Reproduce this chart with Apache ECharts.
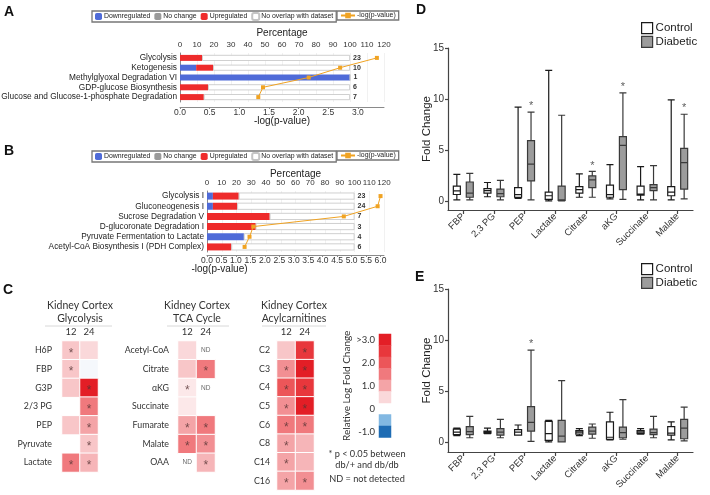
<!DOCTYPE html>
<html><head><meta charset="utf-8">
<script src="https://cdn.jsdelivr.net/npm/echarts@6/dist/echarts.min.js"></script>
<style>html,body{margin:0;padding:0;background:#fff}#c{width:710px;height:495px}</style>
</head><body><div id="c"></div>
<script>
// ---------- Panel A ----------
const aPathways = ['Glycolysis','Ketogenesis','Methylglyoxal Degradation VI','GDP-glucose Biosynthesis','Glucose and Glucose-1-phosphate Degradation'];
const aDown = [0, 9.5, 100, 0, 0];
const aNoChange = [0, 0, 0, 0, 0];
const aUp = [13, 10, 0, 16.5, 14];
const aCounts = [23, 10, 1, 6, 7];
const aLogP = [3.32, 2.70, 2.17, 1.40, 1.32];
const aLogTicks = [0, 0.5, 1.0, 1.5, 2.0, 2.5, 3.0];
// ---------- Panel B ----------
const bPathways = ['Glycolysis I','Gluconeogenesis I','Sucrose Degradation V','D-glucoronate Degradation I','Pyruvate Fermentation to Lactate','Acetyl-CoA Biosynthesis I (PDH Complex)'];
const bDown = [4, 4, 0, 0, 25, 0];
const bNoChange = [0, 0, 0, 0, 0, 0];
const bUp = [17.5, 16.5, 42.5, 33, 0, 16.5];
const bCounts = [23, 24, 7, 3, 4, 6];
const bLogP = [6.0, 5.9, 4.73, 1.6, 1.47, 1.3];
const bLogTicks = [0,0.5,1.0,1.5,2.0,2.5,3.0,3.5,4.0,4.5,5.0,5.5,6.0];
// ---------- Panel C ----------
const colLabels = ['12','24'];
const glyRows = ['H6P','FBP','G3P','2/3 PG','PEP','Pyruvate','Lactate'];
const gly12 = [0.5, 0.5, 0.5, null, 0.5, null, 1.5];
const gly24 = [0.25, -0.1, 3.0, 1.5, 1.0, 0.5, 0.75];
const gly12Marks = ['*','*','','','','','*'];
const gly24Marks = ['','','*','*','*','*','*'];
const tcaRows = ['Acetyl-CoA','Citrate','\u03b1KG','Succinate','Fumarate','Malate','OAA'];
const tca12 = [0.25, 0.5, 0.1, 0.1, 1.0, 1.5, null];
const tca24 = [null, 1.5, null, null, 1.5, 1.25, 0.75];
const tca12Marks = ['','','*','','*','*','ND'];
const tca24Marks = ['ND','*','ND','','*','*','*'];
const acylRows = ['C2','C3','C4','C5','C6','C8','C14','C16'];
const acyl12 = [0.5, 1.25, 2.0, 1.25, 1.5, 1.0, 1.0, 1.0];
const acyl24 = [2.5, 3.0, 2.5, 3.0, 1.5, 0.75, 0.75, 1.25];
const acyl12Marks = ['','*','*','*','*','*','*','*'];
const acyl24Marks = ['*','*','*','*','*','','','*'];
const scaleCats = ['3.0','2.5','2.0','1.5','1.0','0.5','0','-0.5','-1.0'];
const scaleLabels = ['>3.0','','2.0','','1.0','','0','','-1.0'];
const scaleValues = [3.0, 2.5, 2.0, 1.5, 1.0, 0.25, null, -0.5, -1.0];
const levelColors = [
  [3.0,'#e31e26'],[2.5,'#e8373c'],[2.0,'#ec5659'],[1.5,'#f0797d'],[1.25,'#f28f93'],
  [1.0,'#f4a4a7'],[0.75,'#f6b5b8'],[0.5,'#f8c6c8'],[0.25,'#fad8da'],[0.1,'#fce8e9'],
  [-0.1,'#f5f8fc'],[-0.5,'#82b8e2'],[-1.0,'#1e6cb4']
];
// ---------- Panels D / E ----------
const boxCategories = ['FBP','2,3 PG','PEP','Lactate','Citrate','aKG','Succinate','Malate'];
// [min, Q1, median, Q3, max]
const dControl = [[0.1,0.62,0.98,1.44,2.6],[0.4,0.75,1.0,1.2,1.8],[0.25,0.35,0.6,1.3,9.2],[0.0,0.15,0.5,0.85,12.8],[0.35,0.75,1.1,1.4,2.65],[0.2,0.35,0.6,1.55,3.55],[0.1,0.55,0.65,1.45,3.35],[0.1,0.5,0.85,1.4,9.9]];
const dDiabetic = [[0.1,0.35,0.75,1.85,2.7],[0.1,0.4,0.7,1.15,2.0],[0.1,1.95,3.6,5.9,8.7],[0.0,0.05,0.1,1.45,8.4],[0.35,1.3,2.05,2.45,2.9],[0.15,1.1,5.45,6.3,10.6],[0.1,1.0,1.3,1.6,3.45],[0.2,1.15,3.75,5.15,8.5]];
const dStars = [['PEP',9.6],['Citrate',3.7],['aKG',11.5],['Malate',9.4]];
const eControl = [[0.6,0.7,0.95,1.25,1.35],[0.8,0.85,0.95,1.05,1.35],[0.65,0.65,0.95,1.2,1.65],[0.0,0.15,0.8,2.0,2.1],[0.6,0.75,0.95,1.1,1.3],[0.2,0.25,0.45,1.95,2.9],[0.75,0.8,0.95,1.1,1.3],[0.2,0.65,0.85,1.5,1.95]];
const eDiabetic = [[0.4,0.7,1.0,1.5,2.5],[0.4,0.65,0.95,1.3,2.2],[0.05,1.05,1.9,3.45,9.0],[0.0,0.0,0.55,2.1,6.0],[0.35,0.75,1.05,1.45,1.75],[0.25,0.4,0.9,1.45,4.15],[0.4,0.7,0.9,1.25,2.5],[0.1,0.3,1.35,2.2,3.4]];
const eStars = [['PEP',9.9]];
const foldTicks = [0, 5, 10, 15];

const SANS = 'Liberation Sans';
const HUM = 'Lato';
const BLUE = '#4f6bd8', GRAY = '#9a9a9a', RED = '#ee2b2b', ORANGE = '#f0a323';

const chart = echarts.init(document.getElementById('c'), null, {renderer: 'canvas'});

function pathwaySeries(down, noch, up, counts, logp, xi, xl, yi, bw) {
  const rest = down.map((d, i) => 100 - d - noch[i] - up[i]);
  return [
    {type:'bar', name:'Downregulated', stack:'s'+yi, xAxisIndex:xi, yAxisIndex:yi, data:down, barWidth:bw, itemStyle:{color:BLUE}, silent:true},
    {type:'bar', name:'No change', stack:'s'+yi, xAxisIndex:xi, yAxisIndex:yi, data:noch, barWidth:bw, itemStyle:{color:GRAY}, silent:true},
    {type:'bar', name:'Upregulated', stack:'s'+yi, xAxisIndex:xi, yAxisIndex:yi, data:up, barWidth:bw, itemStyle:{color:RED}, silent:true},
    {type:'bar', name:'No overlap with dataset', stack:'s'+yi, xAxisIndex:xi, yAxisIndex:yi, data:rest, barWidth:bw,
      itemStyle:{color:'#fff', borderColor:'#c4c4c4', borderWidth:0.8}, silent:true,
      label:{show:true, position:'right', distance:3, formatter:p => counts[p.dataIndex], fontSize:7, fontWeight:'bold', color:'#333', fontFamily:SANS}},
    {type:'line', name:'-log(p-value)', xAxisIndex:xl, yAxisIndex:yi, data:logp.map((v, i) => [v, i]),
      symbol:'rect', symbolSize:4, lineStyle:{color:ORANGE, width:1}, itemStyle:{color:ORANGE}, z:5, silent:true}
  ];
}

function heatData(c12, c24) {
  const out = [];
  c12.forEach((v, i) => { if (v !== null) out.push([0, i, v]); });
  c24.forEach((v, i) => { if (v !== null) out.push([1, i, v]); });
  return out;
}
function markData(m12, m24) {
  const out = [];
  m12.forEach((t, i) => { if (t) out.push([0, i, t]); });
  m24.forEach((t, i) => { if (t) out.push([1, i, t]); });
  return out;
}
function markSeries(xi, yi, data) {
  return {type:'scatter', xAxisIndex:xi, yAxisIndex:yi, data:data, symbol:'circle', symbolSize:1,
    itemStyle:{color:'rgba(0,0,0,0)'}, silent:true, z:10,
    label:{show:true, position:'inside', formatter:p => p.data[2] === 'ND' ? '{nd|ND}' : '{st|*}',
      rich:{nd:{fontSize:6.5, color:'#444', fontFamily:SANS},
            st:{fontSize:12, color:'#553333', fontFamily:SANS, padding:[6,0,0,0]}}},
    emphasis:{disabled:true}};
}

const series = [];
series.push(...pathwaySeries(aDown, aNoChange, aUp, aCounts, aLogP, 0, 1, 0, 6));
series.push(...pathwaySeries(bDown, bNoChange, bUp, bCounts, bLogP, 2, 3, 1, 7));
const heatIdx = [];
const heatStyle = {borderColor:'#fff', borderWidth:1};
heatIdx.push(series.length);
series.push({type:'heatmap', xAxisIndex:4, yAxisIndex:2, data:heatData(gly12, gly24), itemStyle:heatStyle, silent:true});
series.push(markSeries(4, 2, markData(gly12Marks, gly24Marks)));
heatIdx.push(series.length);
series.push({type:'heatmap', xAxisIndex:5, yAxisIndex:3, data:heatData(tca12, tca24), itemStyle:heatStyle, silent:true});
series.push(markSeries(5, 3, markData(tca12Marks, tca24Marks)));
heatIdx.push(series.length);
series.push({type:'heatmap', xAxisIndex:6, yAxisIndex:4, data:heatData(acyl12, acyl24), itemStyle:heatStyle, silent:true});
series.push(markSeries(6, 4, markData(acyl12Marks, acyl24Marks)));
heatIdx.push(series.length);
series.push({type:'heatmap', xAxisIndex:7, yAxisIndex:5,
  data:scaleValues.map((v, i) => v === null ? null : [0, i, v]).filter(d => d), silent:true});

const boxStyleC = {color:'#fff', borderColor:'#1a1a1a', borderWidth:1.2};
const boxStyleD = {color:'#9c9c9c', borderColor:'#3a3a3a', borderWidth:1.2};
function boxSeries(ctrl, diab, stars, xi, yi) {
  return [
    {type:'boxplot', name:'Control', xAxisIndex:xi, yAxisIndex:yi, data:ctrl, boxWidth:[7,7], itemStyle:boxStyleC, silent:true},
    {type:'boxplot', name:'Diabetic', xAxisIndex:xi, yAxisIndex:yi, data:diab, boxWidth:[7,7], itemStyle:boxStyleD, silent:true},
    {type:'scatter', xAxisIndex:xi, yAxisIndex:yi, data:stars, symbol:'circle', symbolSize:1, itemStyle:{color:'rgba(0,0,0,0)'}, silent:true,
      label:{show:true, position:'inside', formatter:'*', fontSize:11, color:'#333', fontFamily:SANS, offset:[6.5,3]}}
  ];
}
series.push(...boxSeries(dControl, dDiabetic, dStars, 8, 6));
series.push(...boxSeries(eControl, eDiabetic, eStars, 9, 7));

const axisGray = '#8a8a8a';
function pctAxis(grid, margin, nameGap) {
  return {type:'value', gridIndex:grid, position:'top', min:0, max:120, interval:10,
    axisLine:{show:false}, axisTick:{show:false},
    splitLine:{show:true, lineStyle:{color:'#eeeeee', width:0.8}},
    axisLabel:{fontSize:8, color:'#333', margin:margin, fontFamily:SANS},
    name:'Percentage', nameLocation:'middle', nameGap:nameGap, nameMoveOverlap:false,
    nameTextStyle:{fontSize:10, color:'#222', fontFamily:SANS}};
}
function logAxis(grid, max, ticks, offset, nameGap, namePad) {
  return {type:'value', gridIndex:grid, position:'bottom', min:0, max:max, offset:offset,
    axisLine:{show:true, onZero:false, lineStyle:{color:axisGray, width:1}},
    axisTick:{show:true, length:2, customValues:ticks, lineStyle:{color:axisGray}},
    splitLine:{show:false},
    axisLabel:{fontSize:8.5, color:'#333', margin:1, customValues:ticks, formatter:v => v.toFixed(1), fontFamily:SANS},
    name:'-log(p-value)', nameLocation:'middle', nameGap:nameGap, nameMoveOverlap:false,
    nameTextStyle:{fontSize:10, color:'#222', fontFamily:SANS, padding:namePad}};
}
function catY(grid, data) {
  return {type:'category', gridIndex:grid, data:data, inverse:true,
    axisLine:{show:true, lineStyle:{color:axisGray}}, axisTick:{show:false},
    axisLabel:{fontSize:8.3, color:'#222', margin:3, interval:0, fontFamily:SANS}};
}
function heatX(grid) {
  return {type:'category', gridIndex:grid, data:colLabels, position:'top',
    axisLine:{show:false}, axisTick:{show:false}, splitLine:{show:false},
    axisLabel:{fontSize:9.5, color:'#333', margin:4, fontFamily:HUM}};
}
function heatY(grid, data, margin) {
  return {type:'category', gridIndex:grid, data:data, inverse:true,
    axisLine:{show:false}, axisTick:{show:false}, splitLine:{show:false},
    axisLabel:{fontSize:8.8, color:'#333', margin:margin, interval:0, fontFamily:HUM}};
}
function boxX(grid) {
  return {type:'category', gridIndex:grid, data:boxCategories,
    axisLine:{show:true, onZero:false, lineStyle:{color:'#444', width:1.2}},
    axisTick:{show:true, alignWithLabel:true, length:4, lineStyle:{color:'#444', width:1.2}},
    axisLabel:{rotate:45, fontSize:9.5, color:'#333', margin:5, interval:0, fontFamily:SANS},
    splitLine:{show:false}};
}
function boxY(grid, min) {
  return {type:'value', gridIndex:grid, min:min, max:15,
    axisLine:{show:true, lineStyle:{color:'#444', width:1.2}},
    axisTick:{show:true, length:3, customValues:foldTicks, lineStyle:{color:'#444', width:1.2}},
    axisLabel:{fontSize:10, color:'#333', margin:4, customValues:foldTicks, fontFamily:SANS},
    splitLine:{show:false},
    name:'Fold Change', nameLocation:'middle', nameRotate:90, nameGap:15, nameMoveOverlap:false,
    nameTextStyle:{fontSize:11.5, color:'#222', fontFamily:SANS}};
}

const letter = (t, l, tp) => ({text:t, left:l, top:tp, padding:0, textStyle:{fontSize:14, fontWeight:'bold', color:'#111', fontFamily:SANS}});

const legendBase = {itemWidth:7, itemHeight:7, itemGap:4, padding:[1,3], borderColor:'#777', borderWidth:1.3,
  textStyle:{fontSize:6.9, color:'#222', fontFamily:SANS, padding:[0,0,0,-3]}, selectedMode:false};
const boxLegendData = [
  {name:'Control', itemStyle:{color:'#fff', borderColor:'#1a1a1a', borderWidth:1.2}},
  {name:'Diabetic', itemStyle:{color:'#9c9c9c', borderColor:'#3a3a3a', borderWidth:1.2}}
];
const boxLegend = (top) => ({data:boxLegendData, left:641, top:top, orient:'vertical', icon:'rect', itemWidth:11, itemHeight:11, itemGap:1.5,
  textStyle:{fontSize:11.5, color:'#222', fontFamily:SANS, padding:[0,0,0,-2]}, selectedMode:false, padding:0});

const gtext = (text, x, y, size, align) => ({type:'text', x:x, y:y, silent:true,
  style:{text:text, fontSize:size, fontFamily:HUM, fill:'#333', textAlign:align || 'center', textVerticalAlign:'middle'}});
const gline = (x1, x2, y) => ({type:'line', silent:true, shape:{x1:x1, y1:y, x2:x2, y2:y}, style:{stroke:'#d8d8d8', lineWidth:1}});

const gridBase = {outerBoundsMode:'none', containLabel:false};
const mkGrid = (l, t, w, h) => Object.assign({left:l, top:t, width:w, height:h}, gridBase);

const option = {
  animation:false,
  backgroundColor:'#fff',
  textStyle:{fontFamily:SANS},
  title:[letter('A',4,5), letter('B',4,144), letter('C',3,283), letter('D',416,3), letter('E',415,270)],
  legend:[
    Object.assign({}, legendBase, {data:['Downregulated','No change','Upregulated','No overlap with dataset'], left:92, top:11}),
    Object.assign({}, legendBase, {data:['-log(p-value)'], left:337, top:11, itemWidth:14}),
    Object.assign({}, legendBase, {data:['Downregulated','No change','Upregulated','No overlap with dataset'], left:92, top:151}),
    Object.assign({}, legendBase, {data:['-log(p-value)'], left:337, top:151, itemWidth:14}),
    boxLegend(22),
    boxLegend(263)
  ],
  grid:[
    mkGrid(180, 53, 204, 49),
    mkGrid(207, 191, 177, 61),
    mkGrid(62, 341, 36, 131),
    mkGrid(178, 341, 37, 131),
    mkGrid(277, 341, 37, 149),
    mkGrid(379, 334, 12, 103.5),
    mkGrid(448, 48, 245, 162),
    mkGrid(448, 289, 245, 163)
  ],
  xAxis:[
    pctAxis(0, 4, 15),
    logAxis(0, 3.44, aLogTicks, 5, 9, [0,0,0,0]),
    pctAxis(1, 4, 12),
    logAxis(1, 6.12, bLogTicks, 3, 9, [0,152,0,0]),
    heatX(2), heatX(3), heatX(4),
    {type:'category', gridIndex:5, data:['scale'], show:false},
    boxX(6), boxX(7)
  ],
  yAxis:[
    catY(0, aPathways),
    catY(1, bPathways),
    heatY(2, glyRows, 10),
    heatY(3, tcaRows, 9),
    heatY(4, acylRows, 7),
    {type:'category', gridIndex:5, data:scaleCats, inverse:true,
      axisLine:{show:false}, axisTick:{show:false},
      axisLabel:{fontSize:9.5, color:'#333', margin:4, interval:0, fontFamily:HUM, formatter:(v, i) => scaleLabels[i]},
      name:'Relative Log Fold Change', nameLocation:'middle', nameRotate:90, nameGap:27, nameMoveOverlap:false,
      nameTextStyle:{fontSize:10, color:'#333', fontFamily:HUM}},
    boxY(6, -0.9),
    boxY(7, -1.0)
  ],
  visualMap:[{type:'piecewise', show:false, seriesIndex:heatIdx, dimension:2,
    pieces:levelColors.map(l => ({value:l[0], color:l[1]}))}],
  graphic:[
    gtext('Kidney Cortex', 80, 306, 10.5), gtext('Glycolysis', 80, 319, 10.5), gline(45, 112, 326),
    gtext('Kidney Cortex', 197, 306, 10.5), gtext('TCA Cycle', 197, 319, 10.5), gline(167, 229, 326),
    gtext('Kidney Cortex', 294, 306, 10.5), gtext('Acylcarnitines', 294, 319, 10.5), gline(262, 326, 326),
    gtext('* p < 0.05 between', 367, 454, 9.2), gtext('db/+ and db/db', 367, 465, 9.2),
    gtext('ND = not detected', 367, 479, 9.2)
  ],
  series:series
};
chart.setOption(option);
</script>
</body></html>
